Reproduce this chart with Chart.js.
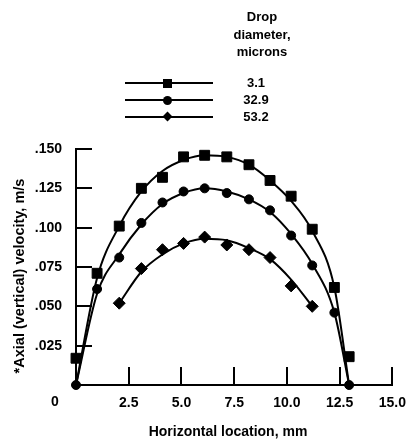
<!DOCTYPE html>
<html lang="en">

<head>
  <meta charset="UTF-8">
  <title>Axial velocity vs horizontal location</title>
  <script src="https://cdn.jsdelivr.net/npm/chart.js"></script>
  <style>
    body { margin: 0; background: #fff; }
    #wrap { position: relative; width: 416px; height: 442px; font-family: "Liberation Sans", Arial, sans-serif; font-weight: bold; color: #000; }
    #chart { position: absolute; left: 0; top: 0; }
    .head { position: absolute; left: 210px; width: 104px; text-align: center; font-size: 13px; line-height: 17.5px; top: 8px; }
    .row { position: absolute; left: 0; width: 416px; height: 1px; }
    .row .ln { position: absolute; left: 125px; width: 88px; top: -1px; height: 2px; background: #000; }
    .row .mk { position: absolute; background: #000; }
    .row .lb { position: absolute; left: 226px; width: 60px; text-align: center; font-size: 13px; top: -8px; line-height: 16px; }
  </style>
</head>

<body>
  <div id="wrap">
    <canvas id="chart" width="416" height="442"></canvas>
    <div class="head">Drop<br>diameter,<br>microns</div>
    <div id="legend"></div>
  </div>

  <script>
    // drop diameters (microns)
    const sizes = ['3.1', '32.9', '53.2'];

    // measured points, horizontal location in mm
    const xSmall = [0, 1, 2.05, 3.1, 4.1, 5.1, 6.1, 7.15, 8.2, 9.2, 10.2, 11.2, 12.25, 12.95];
    const vSmall = [0.017, 0.071, 0.101, 0.125, 0.132, 0.145, 0.146, 0.145, 0.140, 0.130, 0.120, 0.099, 0.062, 0.018];
    const xMid = [0, 1, 2.05, 3.1, 4.1, 5.1, 6.1, 7.15, 8.2, 9.2, 10.2, 11.2, 12.25, 12.95];
    const vMid = [0, 0.061, 0.081, 0.103, 0.116, 0.123, 0.125, 0.122, 0.118, 0.111, 0.095, 0.076, 0.046, 0];
    const xLarge = [2.05, 3.1, 4.1, 5.1, 6.1, 7.15, 8.2, 9.2, 10.2, 11.2];
    const vLarge = [0.052, 0.074, 0.086, 0.090, 0.094, 0.089, 0.086, 0.081, 0.063, 0.050];

    // smooth curves as drawn through the points
    const fitSmallX = [0, 1, 2.05, 3.1, 4.1, 5.1, 6.1, 7.15, 8.2, 9.2, 10.2, 11.2, 12.25, 12.95];
    const fitSmall = [0, 0.068, 0.101, 0.123, 0.136, 0.143, 0.146, 0.145, 0.140, 0.130, 0.117, 0.098, 0.062, 0];
    const fitMidX = [0, 1, 2.05, 3.1, 4.1, 5.1, 6.1, 7.15, 8.2, 9.2, 10.2, 11.2, 12.25, 12.95];
    const fitMid = [0, 0.058, 0.083, 0.102, 0.115, 0.122, 0.125, 0.123, 0.118, 0.110, 0.096, 0.077, 0.046, 0];
    const fitLargeX = [2.05, 3.1, 4.1, 5.1, 6.1, 7.15, 8.2, 9.2, 10.2, 11.2];
    const fitLarge = [0.052, 0.072, 0.083, 0.090, 0.093, 0.092, 0.087, 0.080, 0.067, 0.050];

    // axis ticks
    const xTicks = [0, 2.5, 5, 7.5, 10, 12.5, 15];
    const yTicks = [0, 0.025, 0.05, 0.075, 0.1, 0.125, 0.15];
    const xTitle = 'Horizontal location, mm';
    const yTitle = '*Axial (vertical) velocity, m/s';

    const pts = (xs, ys) => xs.map((v, i) => ({ x: v, y: ys[i] }));
    const font = 'bold 14px "Liberation Sans", Arial, sans-serif';

    function curve(xs, ys) {
      return {
        data: pts(xs, ys), showLine: true, pointRadius: 0, borderColor: '#000',
        borderWidth: 2, cubicInterpolationMode: 'monotone', clip: false
      };
    }
    function marks(xs, ys, style, r) {
      return {
        data: pts(xs, ys), showLine: false, pointStyle: style, pointRadius: r,
        backgroundColor: '#000', borderColor: '#000', borderWidth: 1, clip: false
      };
    }

    // inward tick marks, the corner "0" and axis titles
    const frame = {
      id: 'frame',
      afterDraw(chart) {
        const { ctx, scales: { x, y } } = chart;
        ctx.save();
        ctx.strokeStyle = '#000';
        ctx.lineWidth = 2;
        ctx.beginPath();
        xTicks.forEach(v => {
          if (v === 0) return;
          const px = Math.round(x.getPixelForValue(v));
          ctx.moveTo(px, y.bottom);
          ctx.lineTo(px, y.bottom - 18);
        });
        yTicks.forEach(v => {
          if (v === 0) return;
          const py = Math.round(y.getPixelForValue(v));
          ctx.moveTo(x.left, py);
          ctx.lineTo(x.left + 16, py);
        });
        ctx.stroke();

        ctx.fillStyle = '#000';
        ctx.font = font;
        ctx.textAlign = 'center';
        ctx.textBaseline = 'middle';
        ctx.fillText('0', x.left - 21, y.bottom + 17);
        ctx.fillText(xTitle, 228, 432);
        ctx.translate(20, 276);
        ctx.rotate(-Math.PI / 2);
        ctx.font = 'bold 14.5px "Liberation Sans", Arial, sans-serif';
        ctx.fillText(yTitle, 0, 0);
        ctx.restore();
      }
    };

    new Chart(document.getElementById('chart'), {
      type: 'scatter',
      data: {
        datasets: [
          curve(fitSmallX, fitSmall),
          curve(fitMidX, fitMid),
          curve(fitLargeX, fitLarge),
          marks(xSmall, vSmall, 'rect', 7),
          marks(xMid, vMid, 'circle', 4.5),
          marks(xLarge, vLarge, 'rectRot', 6)
        ]
      },
      options: {
        responsive: false,
        animation: false,
        devicePixelRatio: 1,
        layout: { padding: { top: 149, right: 16, left: 0, bottom: 0 } },
        plugins: { legend: { display: false }, tooltip: { enabled: false } },
        scales: {
          x: {
            min: 0, max: 15,
            afterFit: s => { s.height = 57; },
            afterBuildTicks: s => { s.ticks = xTicks.map(v => ({ value: v })); },
            grid: { display: false, drawTicks: false },
            border: { display: true, color: '#000', width: 2 },
            ticks: {
              color: '#000', padding: 10, font: { family: '"Liberation Sans", Arial, sans-serif', size: 14, weight: 'bold' },
              maxRotation: 0, autoSkip: false,
              callback: v => v === 0 ? '' : v.toFixed(1)
            }
          },
          y: {
            min: 0, max: 0.15,
            afterFit: s => { s.width = 76; },
            afterBuildTicks: s => { s.ticks = yTicks.map(v => ({ value: v })); },
            grid: { display: false, drawTicks: false },
            border: { display: true, color: '#000', width: 2 },
            ticks: {
              color: '#000', padding: 14, font: { family: '"Liberation Sans", Arial, sans-serif', size: 14, weight: 'bold' },
              callback: v => Math.abs(v) < 1e-9 ? '' : v.toFixed(3).slice(1)
            }
          }
        }
      },
      plugins: [frame]
    });

    // legend rows: line with marker in the middle
    const rowsY = [83, 100, 117];
    const markCss = [
      'left:163px;top:-4px;width:9px;height:9px;',
      'left:163px;top:-4px;width:9px;height:9px;border-radius:50%;',
      'left:164px;top:-4px;width:7px;height:7px;transform:rotate(45deg);'
    ];
    const legend = document.getElementById('legend');
    sizes.forEach((s, i) => {
      const row = document.createElement('div');
      row.className = 'row';
      row.style.top = rowsY[i] + 'px';
      row.innerHTML = '<div class="ln"></div><div class="mk" style="' + markCss[i] + '"></div><div class="lb">' + s + '</div>';
      legend.appendChild(row);
    });
  </script>
</body>

</html>
